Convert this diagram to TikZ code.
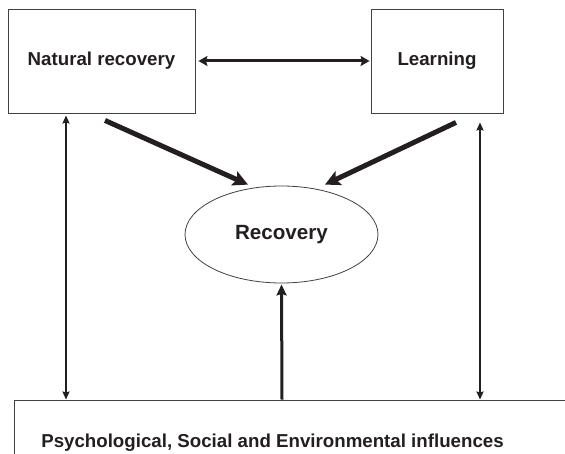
\documentclass[tikz,border=0pt]{standalone}
\usepackage{fontspec}
\setmainfont{Liberation Sans}
\usetikzlibrary{arrows.meta,calc,shapes.geometric}
\definecolor{ink}{HTML}{231F20}
\begin{document}
\begin{tikzpicture}[x=1pt,y=-1pt,
  lbl/.style={font=\bfseries\fontsize{18.7}{22}\selectfont, text=ink},
  biglbl/.style={font=\bfseries\fontsize{20.6}{24}\selectfont, text=ink},
  panel/.style={draw=ink!85, line width=0.9pt, rectangle, inner sep=0pt},
  oval/.style={draw=ink!85, line width=0.8pt, ellipse, inner sep=0pt},
  heavy/.style={draw=ink, line width=5pt, -{Stealth[length=15pt,width=15pt,inset=3pt]}},
  twoway/.style={draw=ink, line width=3pt, {Stealth[length=9pt,width=10pt,inset=1.5pt]}-{Stealth[length=9pt,width=10pt,inset=1.5pt]}},
  midarrow/.style={draw=ink, line width=3pt, -{Stealth[length=11pt,width=10pt,inset=1.5pt]}},
  thintwo/.style={draw=ink, line width=2pt, {Stealth[length=8pt,width=7pt,inset=1pt]}-{Stealth[length=8pt,width=7pt,inset=1pt]}}]
\useasboundingbox (0,0) rectangle (565,454);
\clip (0,0) rectangle (565,454);
\fill[white] (0,0) rectangle (565,454);

% boxes and oval
\node[panel, minimum width=187pt, minimum height=104pt, lbl] (nat) at (101.5,61) {Natural recovery};
\node[panel, minimum width=132pt, minimum height=104pt, lbl] (learn) at (437,61) {Learning};
\node[oval, minimum width=193pt, minimum height=97pt, biglbl] (rec) at (281.5,234.5) {Recovery};
\node[panel, minimum width=600pt, minimum height=100pt] (inf) at (314,450) {};
\node[lbl] (inftext) at (272.5,443) {Psychological, Social and Environmental influences};

% vertical guide positions
\coordinate (lx) at (66,0);
\coordinate (rx) at (480,0);
\coordinate (cx) at (282,0);

% connectors
\draw[twoway, shorten <=3pt, shorten >=1pt] (nat.east) -- (learn.west);
\draw[heavy] ($(nat.south)+(3.5,7)$) -- ($(rec.north)+(-33.5,-1)$);
\draw[heavy] ($(learn.south)+(19,9)$) -- ($(rec.north)+(43.5,-1)$);
\draw[thintwo, shorten <=2pt] (lx |- nat.south) -- (lx |- inf.north);
\draw[thintwo, shorten <=9pt] (rx |- learn.south) -- (rx |- inf.north);
\draw[midarrow, shorten >=1pt] (cx |- inf.north) -- (rec.south);
\end{tikzpicture}
\end{document}
